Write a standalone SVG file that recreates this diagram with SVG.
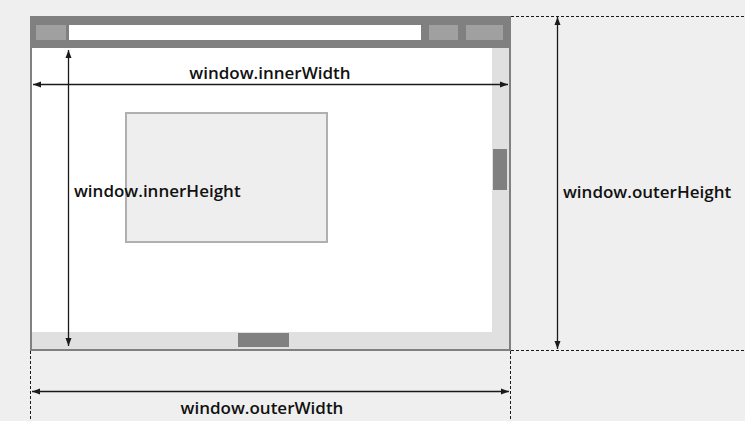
<svg xmlns="http://www.w3.org/2000/svg" width="745" height="421" viewBox="0 0 745 421">
<defs>
<style>
.lbl{font-family:"Open Sans","Noto Sans","Liberation Sans",sans-serif;font-size:17px;font-weight:600;fill:#111111}
.dim{stroke:#1a1a1a;stroke-width:1.3;fill:none}
.dash{stroke:#1a1a1a;stroke-width:1;stroke-dasharray:3,2;fill:none}
.frame{fill:#808080}
.btn{fill:#a0a0a0}
.track{fill:#e0e0e0}
.thumb{fill:#808080}
</style>
<marker id="ah" viewBox="0 0 8 8" refX="8" refY="4" markerWidth="8" markerHeight="8" markerUnits="userSpaceOnUse" orient="auto-start-reverse">
<path d="M0,1 L8,4 L0,7 Z" fill="#1a1a1a"/>
</marker>
</defs>
<rect x="0" y="0" width="745" height="421" fill="#efefef"/>
<g id="browser">
<rect class="frame" x="30" y="16" width="481" height="335"/>
<rect x="32" y="48" width="477" height="301" fill="#ffffff"/>
<rect class="btn" x="36" y="25" width="30" height="15"/>
<rect x="69" y="25" width="352" height="15" fill="#ffffff"/>
<rect class="btn" x="429" y="25" width="29" height="15"/>
<rect class="btn" x="466" y="25" width="37" height="15"/>
<rect class="track" x="492" y="48" width="17" height="301"/>
<rect class="track" x="32" y="332" width="477" height="17"/>
<rect class="thumb" x="493" y="149" width="14" height="41"/>
<rect class="thumb" x="238" y="333" width="51" height="14"/>
</g>
<g id="page-element">
<rect x="126" y="113" width="201" height="129" fill="#eeeeee" stroke="#b0b0b0" stroke-width="2"/>
</g>
<g id="connectors">
<path class="dash" d="M511,16.5 H745 M511,350.5 H745 M30.5,351 V421 M510.5,351 V421"/>
<path class="dim" d="M33,84.5 H508" marker-start="url(#ah)" marker-end="url(#ah)"/>
<path class="dim" d="M68.5,50 V346" marker-start="url(#ah)" marker-end="url(#ah)"/>
<path class="dim" d="M557.5,17 V349" marker-start="url(#ah)" marker-end="url(#ah)"/>
<path class="dim" d="M32,391.5 H509" marker-start="url(#ah)" marker-end="url(#ah)"/>
</g>
<g id="labels">
<text class="lbl" x="270" y="79" text-anchor="middle">window.innerWidth</text>
<text class="lbl" x="74" y="197">window.innerHeight</text>
<text class="lbl" x="563" y="198">window.outerHeight</text>
<text class="lbl" x="262" y="414" text-anchor="middle">window.outerWidth</text>
</g>
</svg>
